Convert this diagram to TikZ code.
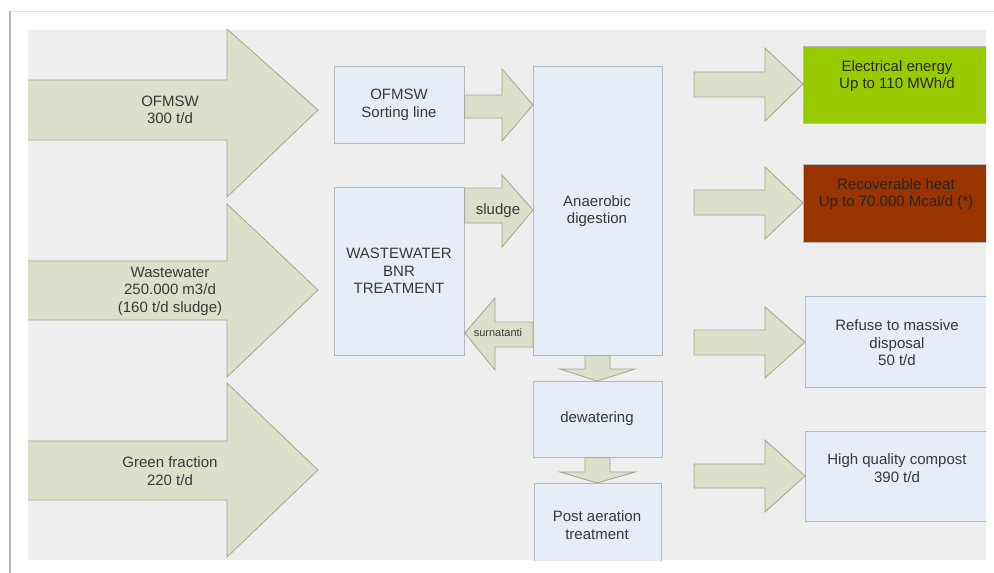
\documentclass[tikz,border=0pt]{standalone}
\usepackage{fontspec}
\setmainfont{Liberation Sans}
\definecolor{bg}{HTML}{EEEEEE}
\definecolor{arrfill}{HTML}{DCDFCA}
\definecolor{arrline}{HTML}{A2A58E}
\definecolor{boxfill}{HTML}{E6EDF6}
\definecolor{boxline}{HTML}{B2B8BF}
\definecolor{elec}{HTML}{99CC00}
\definecolor{heat}{HTML}{993300}
\definecolor{txt}{HTML}{383838}
\begin{document}
\begin{tikzpicture}[x=1pt,y=-1pt,
  box/.style={draw=boxline, fill=boxfill, line width=0.8pt, inner sep=0pt, anchor=north west},
  barrow/.style={draw=arrline, fill=arrfill, line width=0.8pt, line join=miter},
  lbl/.style={text=txt, align=center, inner sep=0pt, font=\fontsize{15}{17.5}\selectfont},
  dlbl/.style={lbl, text=black!85},
  small/.style={text=txt, inner sep=0pt, font=\fontsize{11}{13}\selectfont}]
\useasboundingbox (0,0) rectangle (994,573);
\fill[white] (0,0) rectangle (994,573);
\draw[black!10, line width=1pt] (10,11) -- (994,11);
\draw[black!28, line width=2pt] (10,11) -- (10,573);
\fill[bg] (28,30) rectangle (986,560);
\begin{scope}
\clip (28,29) rectangle (986,560);
% big input arrows
\draw[barrow] (20,80) -- (227,80) -- (227,29) -- (318,110) -- (227,197) -- (227,140) -- (20,140) -- cycle;
\draw[barrow] (20,261) -- (227,261) -- (227,204) -- (318,290) -- (227,377) -- (227,320) -- (20,320) -- cycle;
\draw[barrow] (20,441) -- (227,441) -- (227,383) -- (318,470) -- (227,557) -- (227,500) -- (20,500) -- cycle;
% boxes
\node[box, minimum width=130pt, minimum height=77pt] (sort) at (334,66) {};
\node[box, minimum width=130pt, minimum height=168pt] (bnr) at (334,187) {};
\node[box, minimum width=129pt, minimum height=289pt] (ad) at (533,66) {};
\node[box, minimum width=129pt, minimum height=76pt] (dew) at (533,381) {};
\node[box, minimum width=127pt, minimum height=90pt] (post) at (534,483) {};
\node[box, fill=elec, minimum width=200pt, minimum height=77pt] (elec) at (803,46) {};
\node[box, fill=heat, minimum width=200pt, minimum height=78pt] (heatb) at (803,164) {};
\node[box, minimum width=200pt, minimum height=91pt] (ref) at (805,296) {};
\node[box, minimum width=200pt, minimum height=90pt] (comp) at (805,431) {};
% internal arrows
\draw[barrow] (sort.east |- 0,95) -- (502,95) -- (502,69) -- (ad.west |- 0,105) -- (502,141) -- (502,118) -- (sort.east |- 0,118) -- cycle;
\draw[barrow] (bnr.east |- 0,188) -- (502,188) -- (502,175) -- (ad.west |- 0,210) -- (502,247) -- (502,223) -- (bnr.east |- 0,223) -- cycle;
\draw[barrow] (ad.west |- 0,322) -- (495,322) -- (495,298) -- (bnr.east |- 0,333) -- (495,370) -- (495,347) -- (ad.west |- 0,347) -- cycle;
\draw[barrow] (585,0 |- ad.south) -- (585,369) -- (560,369) -- (597,0 |- dew.north) -- (635,369) -- (610,369) -- (610,0 |- ad.south) -- cycle;
\draw[barrow] (585,0 |- dew.south) -- (585,472) -- (560,472) -- (597,0 |- post.north) -- (635,472) -- (610,472) -- (610,0 |- dew.south) -- cycle;
% output arrows
\draw[barrow] (694,72) -- (765,72) -- (765,48) -- (elec.west |- 0,84) -- (765,121) -- (765,97) -- (694,97) -- cycle;
\draw[barrow] (694,190) -- (765,190) -- (765,167) -- (heatb.west |- 0,203) -- (765,239) -- (765,215) -- (694,215) -- cycle;
\draw[barrow] (694,330) -- (765,330) -- (765,307) -- (ref.west |- 0,342) -- (765,378) -- (765,355) -- (694,355) -- cycle;
\draw[barrow] (694,464) -- (765,464) -- (765,440) -- (comp.west |- 0,476) -- (765,512) -- (765,488) -- (694,488) -- cycle;
\end{scope}
% labels
\node[lbl] (t1) at (170,110) {OFMSW\\300 t/d};
\node[lbl] (t2) at (170,291) {Wastewater\\250.000 m3/d\\(160 t/d sludge)};
\node[lbl] (t3) at (170,471) {Green fraction\\220 t/d};
\node[lbl] (tsort) at (399,105) {OFMSW\\Sorting line};
\node[lbl] (tbnr) at (399,271) {WASTEWATER\\BNR\\TREATMENT};
\node[lbl] (tad) at (597,211) {Anaerobic\\digestion};
\node[lbl] (tsl) at (498,211) {sludge};
\node[small] (tsu) at (498,333) {surnatanti};
\node[lbl] (tdew) at (597,419) {dewatering};
\node[lbl] (tpost) at (597,525) {Post aeration\\treatment};
\node[dlbl] (tel) at (897,76) {Electrical energy\\Up to 110 MWh/d};
\node[dlbl] (the) at (896,194) {Recoverable heat\\Up to 70.000 Mcal/d (*)};
\node[lbl] (tref) at (897,343) {Refuse to massive\\disposal\\50 t/d};
\node[lbl] (tcomp) at (897,468) {High quality compost\\390 t/d};
\end{tikzpicture}
\end{document}
